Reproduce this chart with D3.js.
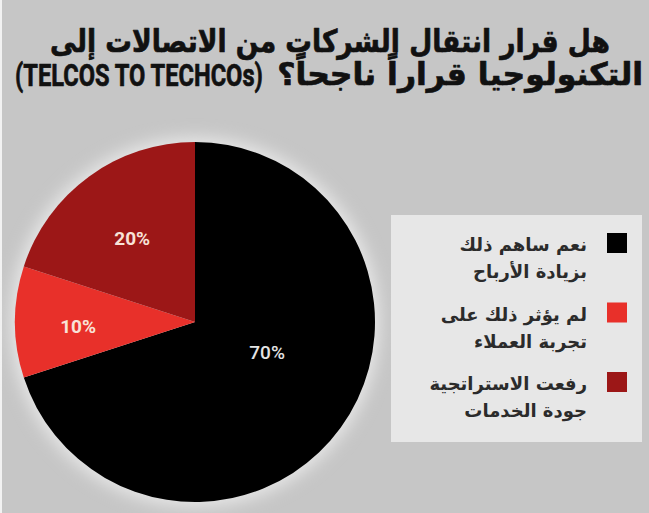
<!DOCTYPE html>
<html>
<head>
<meta charset="utf-8">
<script src="https://cdn.jsdelivr.net/npm/d3@7"></script>
<style>
  html, body { margin: 0; padding: 0; background: #ffffff; }
  svg { display: block; }
</style>
</head>
<body>
<svg id="chart" width="649" height="513"></svg>
<script>
// Survey answers: did the telco-to-techco move succeed?
const titleLine1 = "هل قرار انتقال الشركات من الاتصالات إلى";
const titleLine2Arabic = "التكنولوجيا قراراً ناجحاً؟";
const titleLine2Latin = "(TELCOS TO TECHCOs)";

const categories = [
  "نعم ساهم ذلك|بزيادة الأرباح",
  "لم يؤثر ذلك على|تجربة العملاء",
  "رفعت الاستراتجية|جودة الخدمات"
];
const values = [70, 10, 20];
const colors = ["#000000", "#e8302a", "#9c1717"];

const W = 649, H = 513;
const svg = d3.select("#chart");
const arabicFont = "'DejaVu Sans', 'Noto Sans', sans-serif";
const latinFont = "Roboto, 'Liberation Sans', sans-serif";

// squeeze a text horizontally so it spans `target` px, pivoting on x = pivot
function fitWidth(sel, target, pivot) {
  const w = sel.node().getBBox().width;
  const k = target / w;
  sel.attr("transform", `translate(${pivot},0) scale(${k},1) translate(${-pivot},0)`);
  return sel;
}

// backdrop
svg.append("rect").attr("x", 0).attr("y", 0).attr("width", W).attr("height", H).attr("fill", "#f2f2f2");
svg.append("rect").attr("x", 2).attr("y", 0).attr("width", W - 2).attr("height", H).attr("fill", "#c6c6c6");

const defs = svg.append("defs");
defs.append("filter").attr("id", "glow").attr("x", "-30%").attr("y", "-30%").attr("width", "160%").attr("height", "160%")
  .append("feGaussianBlur").attr("stdDeviation", 8);

// title (heavy weight: bold face plus a thin outline)
const titleStyle = sel => sel
  .attr("font-weight", 700).attr("font-size", 31)
  .attr("fill", "#111").attr("stroke", "#111").attr("stroke-width", 0.7)
  .attr("stroke-linejoin", "round");

const t1 = svg.append("text")
  .attr("x", 330).attr("y", 52)
  .attr("text-anchor", "middle")
  .attr("direction", "rtl")
  .attr("font-family", arabicFont)
  .call(titleStyle)
  .text(titleLine1);
fitWidth(t1, 560, 330);

const t2 = svg.append("text")
  .attr("x", 643).attr("y", 85)
  .attr("text-anchor", "start")
  .attr("direction", "rtl")
  .attr("font-family", arabicFont)
  .call(titleStyle)
  .text(titleLine2Arabic);
fitWidth(t2, 366, 643);

const t3 = svg.append("text")
  .attr("x", 15).attr("y", 86)
  .attr("text-anchor", "start")
  .attr("font-family", latinFont)
  .call(titleStyle)
  .text(titleLine2Latin);
fitWidth(t3, 248, 15);

// pie
const cx = 195, cy = 322, radius = 180;
const pie = d3.pie().sort(null).value(d => d)(values);
const arc = d3.arc().innerRadius(0).outerRadius(radius);

const g = svg.append("g").attr("transform", `translate(${cx},${cy})`);
g.append("circle").attr("r", radius + 5).attr("fill", "#e6e6e6").attr("filter", "url(#glow)");

g.selectAll("path.slice")
  .data(pie)
  .join("path")
  .attr("class", "slice")
  .attr("d", arc)
  .attr("fill", (d, i) => colors[i]);

// label placement inside each slice: fraction of radius and angular nudge (deg)
const labelPlacement = [
  { r: 0.435, turn: -13 },
  { r: 0.65, turn: -2 },
  { r: 0.58, turn: -1 }
];
const labelColors = ["#e4e4e4", "#f8e2d8", "#f8e2d8"];

g.selectAll("text.pct")
  .data(pie)
  .join("text")
  .attr("class", "pct")
  .attr("transform", (d, i) => {
    const p = labelPlacement[i];
    const a = (d.startAngle + d.endAngle) / 2 + p.turn * Math.PI / 180;
    const rr = radius * p.r;
    return `translate(${rr * Math.sin(a)},${-rr * Math.cos(a)})`;
  })
  .attr("text-anchor", "middle")
  .attr("dominant-baseline", "central")
  .attr("font-family", latinFont)
  .attr("font-weight", (d, i) => i === 0 ? 500 : 700)
  .attr("font-size", 19)
  .attr("fill", (d, i) => labelColors[i])
  .text(d => d.value + "%");

// legend
const legend = svg.append("g");
legend.append("rect")
  .attr("x", 391).attr("y", 215).attr("width", 251).attr("height", 227)
  .attr("fill", "#e7e7e7");

const rowY = d3.scalePoint().domain(d3.range(categories.length)).range([243, 382]);

const rows = legend.selectAll("g.row")
  .data(categories)
  .join("g")
  .attr("class", "row")
  .attr("transform", (d, i) => `translate(0,${rowY(i)})`);

rows.append("rect")
  .attr("x", 607).attr("y", -10).attr("width", 20).attr("height", 20)
  .attr("fill", (d, i) => colors[i]);

rows.each(function(d) {
  const lines = d.split("|");
  d3.select(this).selectAll("text")
    .data(lines)
    .join("text")
    .attr("x", 587)
    .attr("y", (l, j) => 8 + j * 27)
    .attr("direction", "rtl")
    .attr("text-anchor", "start")
    .attr("font-family", arabicFont)
    .attr("font-weight", 700)
    .attr("font-size", 18)
    .attr("fill", "#2b2b2b")
    .text(l => l);
});
</script>
</body>
</html>
